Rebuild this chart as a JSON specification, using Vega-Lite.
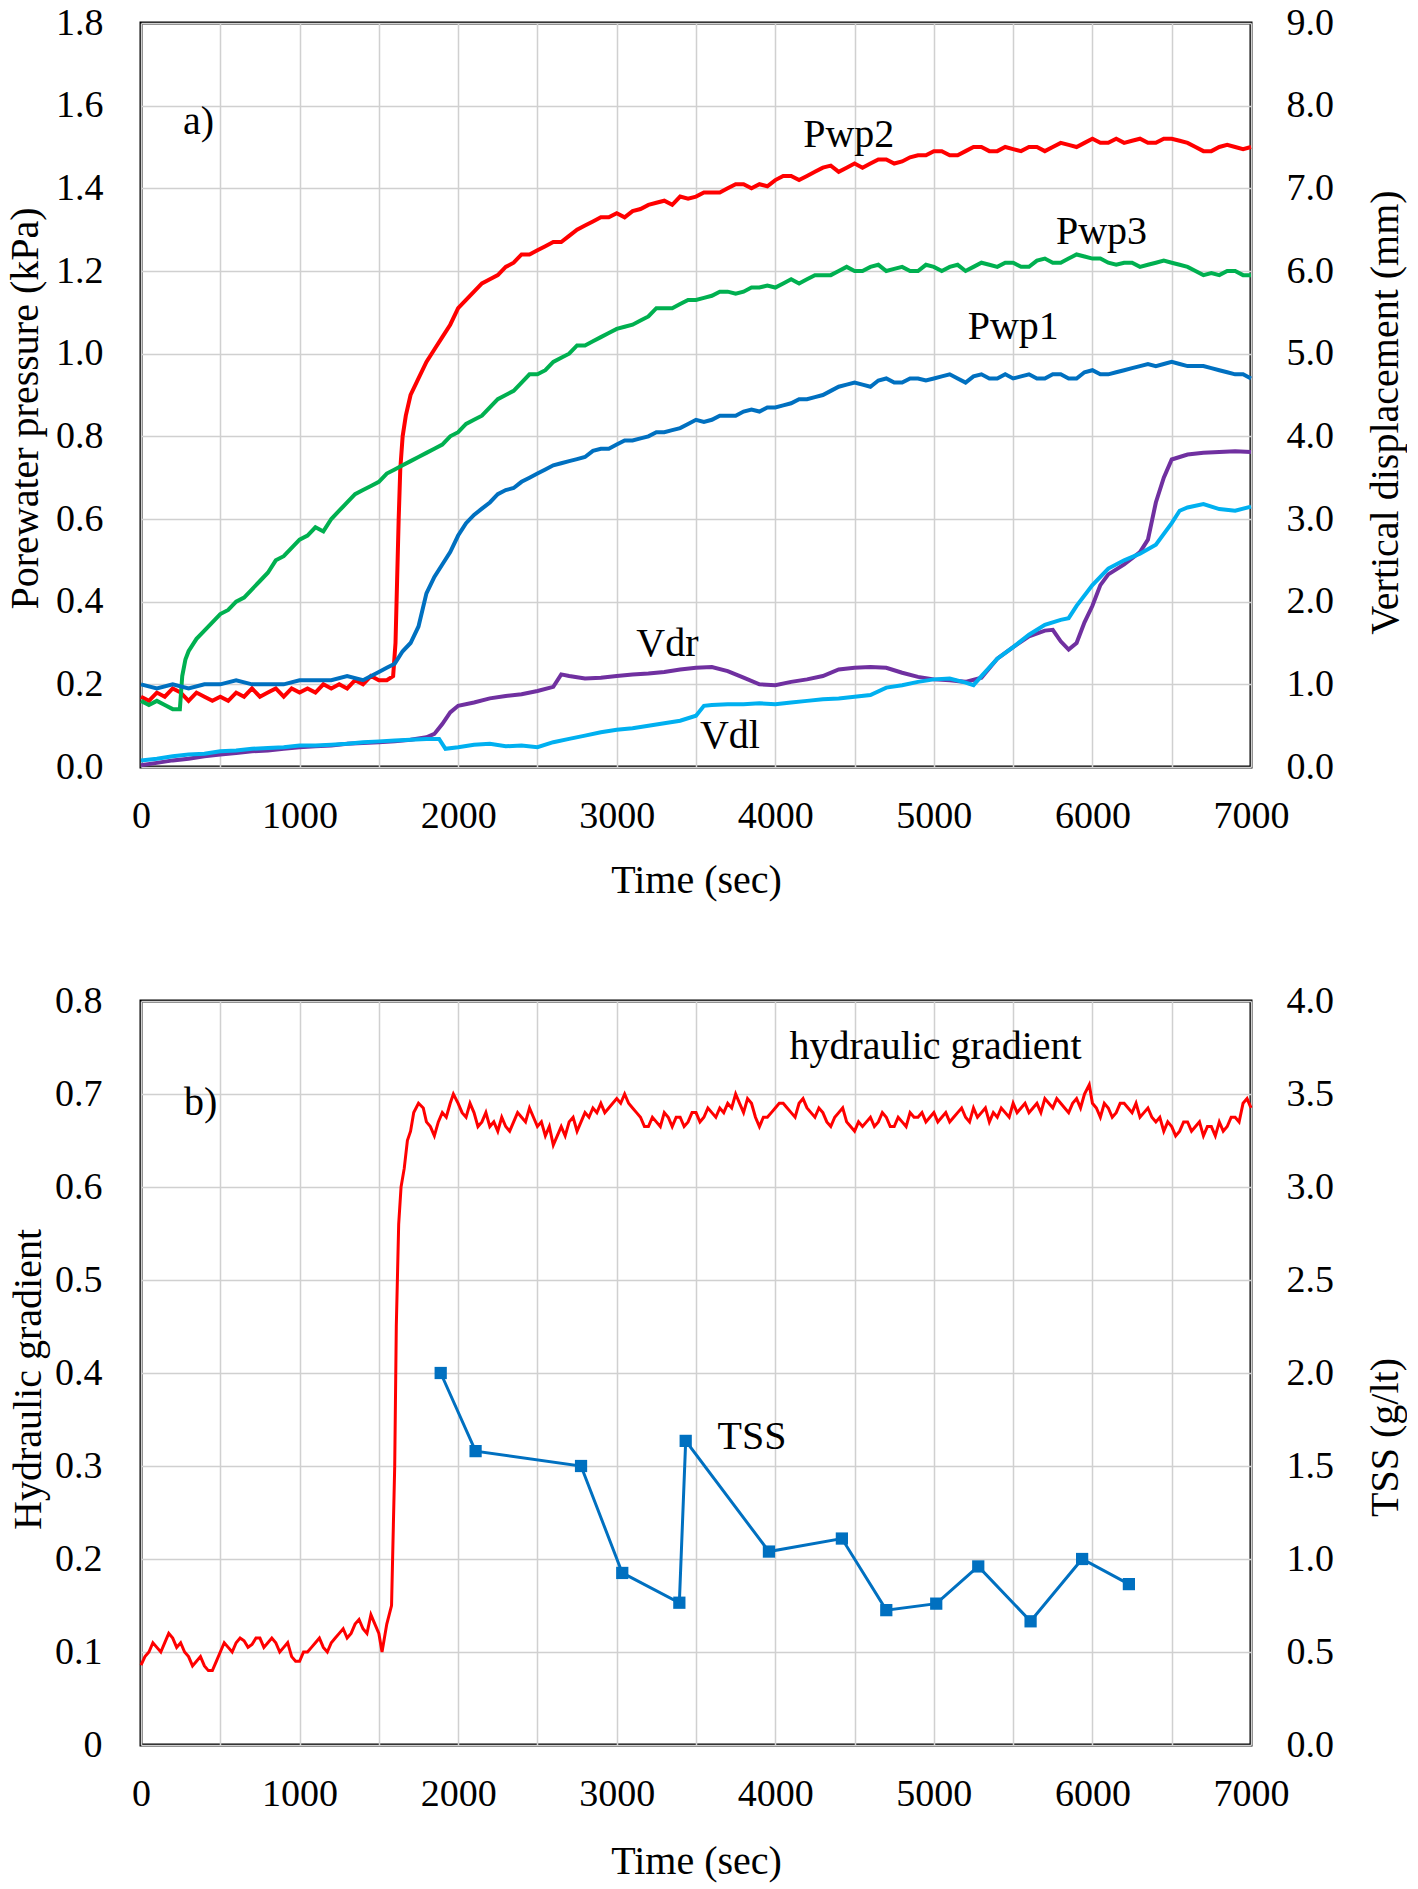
{
"$schema":"https://vega.github.io/schema/vega-lite/v6.json",
"background":"white",
"padding":{"left":3,"top":2,"right":0,"bottom":0},
"spacing":78,
"config":{
 "font":"Liberation Serif",
 "view":{"stroke":"black","strokeWidth":3},
 "axis":{"labelFont":"Liberation Serif","labelFontSize":38,"labelColor":"black","titleFont":"Liberation Serif","titleFontSize":40,"titleFontWeight":"normal","titleColor":"black","domain":false,"ticks":false,"tickSize":0,"gridColor":"#d0d0d0","gridWidth":1.5,"labelOverlap":false},
 "text":{"font":"Liberation Serif","fontSize":40,"color":"black"}
},
"datasets":{
 "pwp":[
{"s":"Pwp2","t":0,"v":0.17},{"s":"Pwp2","t":50,"v":0.16},{"s":"Pwp2","t":100,"v":0.18},{"s":"Pwp2","t":150,"v":0.17},{"s":"Pwp2","t":200,"v":0.19},{"s":"Pwp2","t":250,"v":0.18},{"s":"Pwp2","t":300,"v":0.16},{"s":"Pwp2","t":350,"v":0.18},{"s":"Pwp2","t":400,"v":0.17},{"s":"Pwp2","t":450,"v":0.16},{"s":"Pwp2","t":500,"v":0.17},{"s":"Pwp2","t":550,"v":0.16},{"s":"Pwp2","t":600,"v":0.18},{"s":"Pwp2","t":650,"v":0.17},{"s":"Pwp2","t":700,"v":0.19},{"s":"Pwp2","t":750,"v":0.17},{"s":"Pwp2","t":800,"v":0.18},{"s":"Pwp2","t":850,"v":0.19},{"s":"Pwp2","t":900,"v":0.17},{"s":"Pwp2","t":950,"v":0.19},{"s":"Pwp2","t":1000,"v":0.18},{"s":"Pwp2","t":1050,"v":0.19},{"s":"Pwp2","t":1100,"v":0.18},{"s":"Pwp2","t":1150,"v":0.2},{"s":"Pwp2","t":1200,"v":0.19},{"s":"Pwp2","t":1250,"v":0.2},{"s":"Pwp2","t":1300,"v":0.19},{"s":"Pwp2","t":1350,"v":0.21},{"s":"Pwp2","t":1400,"v":0.2},{"s":"Pwp2","t":1450,"v":0.22},{"s":"Pwp2","t":1500,"v":0.21},{"s":"Pwp2","t":1550,"v":0.21},{"s":"Pwp2","t":1590,"v":0.22},{"s":"Pwp2","t":1605,"v":0.3},{"s":"Pwp2","t":1615,"v":0.45},{"s":"Pwp2","t":1625,"v":0.6},{"s":"Pwp2","t":1635,"v":0.72},{"s":"Pwp2","t":1650,"v":0.8},{"s":"Pwp2","t":1670,"v":0.85},{"s":"Pwp2","t":1700,"v":0.9},{"s":"Pwp2","t":1750,"v":0.94},{"s":"Pwp2","t":1800,"v":0.98},{"s":"Pwp2","t":1850,"v":1.01},{"s":"Pwp2","t":1900,"v":1.04},{"s":"Pwp2","t":1950,"v":1.07},{"s":"Pwp2","t":2000,"v":1.11},{"s":"Pwp2","t":2050,"v":1.13},{"s":"Pwp2","t":2100,"v":1.15},{"s":"Pwp2","t":2150,"v":1.17},{"s":"Pwp2","t":2200,"v":1.18},{"s":"Pwp2","t":2250,"v":1.19},{"s":"Pwp2","t":2300,"v":1.21},{"s":"Pwp2","t":2350,"v":1.22},{"s":"Pwp2","t":2400,"v":1.24},{"s":"Pwp2","t":2450,"v":1.24},{"s":"Pwp2","t":2500,"v":1.25},{"s":"Pwp2","t":2550,"v":1.26},{"s":"Pwp2","t":2600,"v":1.27},{"s":"Pwp2","t":2650,"v":1.27},{"s":"Pwp2","t":2700,"v":1.285},{"s":"Pwp2","t":2750,"v":1.3},{"s":"Pwp2","t":2800,"v":1.31},{"s":"Pwp2","t":2850,"v":1.32},{"s":"Pwp2","t":2900,"v":1.33},{"s":"Pwp2","t":2950,"v":1.33},{"s":"Pwp2","t":3000,"v":1.34},{"s":"Pwp2","t":3050,"v":1.33},{"s":"Pwp2","t":3100,"v":1.345},{"s":"Pwp2","t":3150,"v":1.35},{"s":"Pwp2","t":3200,"v":1.36},{"s":"Pwp2","t":3250,"v":1.365},{"s":"Pwp2","t":3300,"v":1.37},{"s":"Pwp2","t":3350,"v":1.36},{"s":"Pwp2","t":3400,"v":1.38},{"s":"Pwp2","t":3450,"v":1.375},{"s":"Pwp2","t":3500,"v":1.38},{"s":"Pwp2","t":3550,"v":1.39},{"s":"Pwp2","t":3600,"v":1.39},{"s":"Pwp2","t":3650,"v":1.39},{"s":"Pwp2","t":3700,"v":1.4},{"s":"Pwp2","t":3750,"v":1.41},{"s":"Pwp2","t":3800,"v":1.41},{"s":"Pwp2","t":3850,"v":1.4},{"s":"Pwp2","t":3900,"v":1.41},{"s":"Pwp2","t":3950,"v":1.405},{"s":"Pwp2","t":4000,"v":1.42},{"s":"Pwp2","t":4050,"v":1.43},{"s":"Pwp2","t":4100,"v":1.43},{"s":"Pwp2","t":4150,"v":1.42},{"s":"Pwp2","t":4200,"v":1.43},{"s":"Pwp2","t":4250,"v":1.44},{"s":"Pwp2","t":4300,"v":1.45},{"s":"Pwp2","t":4350,"v":1.455},{"s":"Pwp2","t":4400,"v":1.44},{"s":"Pwp2","t":4450,"v":1.45},{"s":"Pwp2","t":4500,"v":1.46},{"s":"Pwp2","t":4550,"v":1.45},{"s":"Pwp2","t":4600,"v":1.46},{"s":"Pwp2","t":4650,"v":1.47},{"s":"Pwp2","t":4700,"v":1.47},{"s":"Pwp2","t":4750,"v":1.46},{"s":"Pwp2","t":4800,"v":1.465},{"s":"Pwp2","t":4850,"v":1.475},{"s":"Pwp2","t":4900,"v":1.48},{"s":"Pwp2","t":4950,"v":1.48},{"s":"Pwp2","t":5000,"v":1.49},{"s":"Pwp2","t":5050,"v":1.49},{"s":"Pwp2","t":5100,"v":1.48},{"s":"Pwp2","t":5150,"v":1.48},{"s":"Pwp2","t":5200,"v":1.49},{"s":"Pwp2","t":5250,"v":1.5},{"s":"Pwp2","t":5300,"v":1.5},{"s":"Pwp2","t":5350,"v":1.49},{"s":"Pwp2","t":5400,"v":1.49},{"s":"Pwp2","t":5450,"v":1.5},{"s":"Pwp2","t":5500,"v":1.495},{"s":"Pwp2","t":5550,"v":1.49},{"s":"Pwp2","t":5600,"v":1.5},{"s":"Pwp2","t":5650,"v":1.5},{"s":"Pwp2","t":5700,"v":1.49},{"s":"Pwp2","t":5750,"v":1.5},{"s":"Pwp2","t":5800,"v":1.51},{"s":"Pwp2","t":5850,"v":1.505},{"s":"Pwp2","t":5900,"v":1.5},{"s":"Pwp2","t":5950,"v":1.51},{"s":"Pwp2","t":6000,"v":1.52},{"s":"Pwp2","t":6050,"v":1.51},{"s":"Pwp2","t":6100,"v":1.51},{"s":"Pwp2","t":6150,"v":1.52},{"s":"Pwp2","t":6200,"v":1.51},{"s":"Pwp2","t":6250,"v":1.515},{"s":"Pwp2","t":6300,"v":1.52},{"s":"Pwp2","t":6350,"v":1.51},{"s":"Pwp2","t":6400,"v":1.51},{"s":"Pwp2","t":6450,"v":1.52},{"s":"Pwp2","t":6500,"v":1.52},{"s":"Pwp2","t":6550,"v":1.515},{"s":"Pwp2","t":6600,"v":1.51},{"s":"Pwp2","t":6650,"v":1.5},{"s":"Pwp2","t":6700,"v":1.49},{"s":"Pwp2","t":6750,"v":1.49},{"s":"Pwp2","t":6800,"v":1.5},{"s":"Pwp2","t":6850,"v":1.505},{"s":"Pwp2","t":6900,"v":1.5},{"s":"Pwp2","t":6950,"v":1.495},{"s":"Pwp2","t":7000,"v":1.5},
{"s":"Pwp3","t":0,"v":0.16},{"s":"Pwp3","t":50,"v":0.15},{"s":"Pwp3","t":100,"v":0.16},{"s":"Pwp3","t":150,"v":0.15},{"s":"Pwp3","t":200,"v":0.14},{"s":"Pwp3","t":245,"v":0.14},{"s":"Pwp3","t":260,"v":0.22},{"s":"Pwp3","t":280,"v":0.26},{"s":"Pwp3","t":300,"v":0.28},{"s":"Pwp3","t":350,"v":0.31},{"s":"Pwp3","t":400,"v":0.33},{"s":"Pwp3","t":450,"v":0.35},{"s":"Pwp3","t":500,"v":0.37},{"s":"Pwp3","t":550,"v":0.38},{"s":"Pwp3","t":600,"v":0.4},{"s":"Pwp3","t":650,"v":0.41},{"s":"Pwp3","t":700,"v":0.43},{"s":"Pwp3","t":750,"v":0.45},{"s":"Pwp3","t":800,"v":0.47},{"s":"Pwp3","t":850,"v":0.5},{"s":"Pwp3","t":900,"v":0.51},{"s":"Pwp3","t":950,"v":0.53},{"s":"Pwp3","t":1000,"v":0.55},{"s":"Pwp3","t":1050,"v":0.56},{"s":"Pwp3","t":1100,"v":0.58},{"s":"Pwp3","t":1150,"v":0.57},{"s":"Pwp3","t":1200,"v":0.6},{"s":"Pwp3","t":1250,"v":0.62},{"s":"Pwp3","t":1300,"v":0.64},{"s":"Pwp3","t":1350,"v":0.66},{"s":"Pwp3","t":1400,"v":0.67},{"s":"Pwp3","t":1450,"v":0.68},{"s":"Pwp3","t":1500,"v":0.69},{"s":"Pwp3","t":1550,"v":0.71},{"s":"Pwp3","t":1600,"v":0.72},{"s":"Pwp3","t":1650,"v":0.73},{"s":"Pwp3","t":1700,"v":0.74},{"s":"Pwp3","t":1750,"v":0.75},{"s":"Pwp3","t":1800,"v":0.76},{"s":"Pwp3","t":1850,"v":0.77},{"s":"Pwp3","t":1900,"v":0.78},{"s":"Pwp3","t":1950,"v":0.8},{"s":"Pwp3","t":2000,"v":0.81},{"s":"Pwp3","t":2050,"v":0.83},{"s":"Pwp3","t":2100,"v":0.84},{"s":"Pwp3","t":2150,"v":0.85},{"s":"Pwp3","t":2200,"v":0.87},{"s":"Pwp3","t":2250,"v":0.89},{"s":"Pwp3","t":2300,"v":0.9},{"s":"Pwp3","t":2350,"v":0.91},{"s":"Pwp3","t":2400,"v":0.93},{"s":"Pwp3","t":2450,"v":0.95},{"s":"Pwp3","t":2500,"v":0.95},{"s":"Pwp3","t":2550,"v":0.96},{"s":"Pwp3","t":2600,"v":0.98},{"s":"Pwp3","t":2650,"v":0.99},{"s":"Pwp3","t":2700,"v":1.0},{"s":"Pwp3","t":2750,"v":1.02},{"s":"Pwp3","t":2800,"v":1.02},{"s":"Pwp3","t":2850,"v":1.03},{"s":"Pwp3","t":2900,"v":1.04},{"s":"Pwp3","t":2950,"v":1.05},{"s":"Pwp3","t":3000,"v":1.06},{"s":"Pwp3","t":3050,"v":1.065},{"s":"Pwp3","t":3100,"v":1.07},{"s":"Pwp3","t":3150,"v":1.08},{"s":"Pwp3","t":3200,"v":1.09},{"s":"Pwp3","t":3250,"v":1.11},{"s":"Pwp3","t":3300,"v":1.11},{"s":"Pwp3","t":3350,"v":1.11},{"s":"Pwp3","t":3400,"v":1.12},{"s":"Pwp3","t":3450,"v":1.13},{"s":"Pwp3","t":3500,"v":1.13},{"s":"Pwp3","t":3550,"v":1.135},{"s":"Pwp3","t":3600,"v":1.14},{"s":"Pwp3","t":3650,"v":1.15},{"s":"Pwp3","t":3700,"v":1.15},{"s":"Pwp3","t":3750,"v":1.145},{"s":"Pwp3","t":3800,"v":1.15},{"s":"Pwp3","t":3850,"v":1.16},{"s":"Pwp3","t":3900,"v":1.16},{"s":"Pwp3","t":3950,"v":1.165},{"s":"Pwp3","t":4000,"v":1.16},{"s":"Pwp3","t":4050,"v":1.17},{"s":"Pwp3","t":4100,"v":1.18},{"s":"Pwp3","t":4150,"v":1.17},{"s":"Pwp3","t":4200,"v":1.18},{"s":"Pwp3","t":4250,"v":1.19},{"s":"Pwp3","t":4300,"v":1.19},{"s":"Pwp3","t":4350,"v":1.19},{"s":"Pwp3","t":4400,"v":1.2},{"s":"Pwp3","t":4450,"v":1.21},{"s":"Pwp3","t":4500,"v":1.2},{"s":"Pwp3","t":4550,"v":1.2},{"s":"Pwp3","t":4600,"v":1.21},{"s":"Pwp3","t":4650,"v":1.215},{"s":"Pwp3","t":4700,"v":1.2},{"s":"Pwp3","t":4750,"v":1.205},{"s":"Pwp3","t":4800,"v":1.21},{"s":"Pwp3","t":4850,"v":1.2},{"s":"Pwp3","t":4900,"v":1.2},{"s":"Pwp3","t":4950,"v":1.215},{"s":"Pwp3","t":5000,"v":1.21},{"s":"Pwp3","t":5050,"v":1.2},{"s":"Pwp3","t":5100,"v":1.21},{"s":"Pwp3","t":5150,"v":1.215},{"s":"Pwp3","t":5200,"v":1.2},{"s":"Pwp3","t":5250,"v":1.21},{"s":"Pwp3","t":5300,"v":1.22},{"s":"Pwp3","t":5350,"v":1.215},{"s":"Pwp3","t":5400,"v":1.21},{"s":"Pwp3","t":5450,"v":1.22},{"s":"Pwp3","t":5500,"v":1.22},{"s":"Pwp3","t":5550,"v":1.21},{"s":"Pwp3","t":5600,"v":1.21},{"s":"Pwp3","t":5650,"v":1.225},{"s":"Pwp3","t":5700,"v":1.23},{"s":"Pwp3","t":5750,"v":1.22},{"s":"Pwp3","t":5800,"v":1.22},{"s":"Pwp3","t":5850,"v":1.23},{"s":"Pwp3","t":5900,"v":1.24},{"s":"Pwp3","t":5950,"v":1.235},{"s":"Pwp3","t":6000,"v":1.23},{"s":"Pwp3","t":6050,"v":1.23},{"s":"Pwp3","t":6100,"v":1.22},{"s":"Pwp3","t":6150,"v":1.215},{"s":"Pwp3","t":6200,"v":1.22},{"s":"Pwp3","t":6250,"v":1.22},{"s":"Pwp3","t":6300,"v":1.21},{"s":"Pwp3","t":6350,"v":1.215},{"s":"Pwp3","t":6400,"v":1.22},{"s":"Pwp3","t":6450,"v":1.225},{"s":"Pwp3","t":6500,"v":1.22},{"s":"Pwp3","t":6550,"v":1.215},{"s":"Pwp3","t":6600,"v":1.21},{"s":"Pwp3","t":6650,"v":1.2},{"s":"Pwp3","t":6700,"v":1.19},{"s":"Pwp3","t":6750,"v":1.195},{"s":"Pwp3","t":6800,"v":1.19},{"s":"Pwp3","t":6850,"v":1.2},{"s":"Pwp3","t":6900,"v":1.2},{"s":"Pwp3","t":6950,"v":1.19},{"s":"Pwp3","t":7000,"v":1.19},
{"s":"Pwp1","t":0,"v":0.2},{"s":"Pwp1","t":100,"v":0.19},{"s":"Pwp1","t":200,"v":0.2},{"s":"Pwp1","t":300,"v":0.19},{"s":"Pwp1","t":400,"v":0.2},{"s":"Pwp1","t":500,"v":0.2},{"s":"Pwp1","t":600,"v":0.21},{"s":"Pwp1","t":700,"v":0.2},{"s":"Pwp1","t":800,"v":0.2},{"s":"Pwp1","t":900,"v":0.2},{"s":"Pwp1","t":1000,"v":0.21},{"s":"Pwp1","t":1100,"v":0.21},{"s":"Pwp1","t":1200,"v":0.21},{"s":"Pwp1","t":1300,"v":0.22},{"s":"Pwp1","t":1400,"v":0.21},{"s":"Pwp1","t":1500,"v":0.23},{"s":"Pwp1","t":1550,"v":0.24},{"s":"Pwp1","t":1600,"v":0.25},{"s":"Pwp1","t":1650,"v":0.28},{"s":"Pwp1","t":1700,"v":0.3},{"s":"Pwp1","t":1750,"v":0.34},{"s":"Pwp1","t":1800,"v":0.42},{"s":"Pwp1","t":1850,"v":0.46},{"s":"Pwp1","t":1900,"v":0.49},{"s":"Pwp1","t":1950,"v":0.52},{"s":"Pwp1","t":2000,"v":0.56},{"s":"Pwp1","t":2050,"v":0.59},{"s":"Pwp1","t":2100,"v":0.61},{"s":"Pwp1","t":2150,"v":0.625},{"s":"Pwp1","t":2200,"v":0.64},{"s":"Pwp1","t":2250,"v":0.66},{"s":"Pwp1","t":2300,"v":0.67},{"s":"Pwp1","t":2350,"v":0.675},{"s":"Pwp1","t":2400,"v":0.69},{"s":"Pwp1","t":2450,"v":0.7},{"s":"Pwp1","t":2500,"v":0.71},{"s":"Pwp1","t":2550,"v":0.72},{"s":"Pwp1","t":2600,"v":0.73},{"s":"Pwp1","t":2650,"v":0.735},{"s":"Pwp1","t":2700,"v":0.74},{"s":"Pwp1","t":2750,"v":0.745},{"s":"Pwp1","t":2800,"v":0.75},{"s":"Pwp1","t":2850,"v":0.765},{"s":"Pwp1","t":2900,"v":0.77},{"s":"Pwp1","t":2950,"v":0.77},{"s":"Pwp1","t":3000,"v":0.78},{"s":"Pwp1","t":3050,"v":0.79},{"s":"Pwp1","t":3100,"v":0.79},{"s":"Pwp1","t":3150,"v":0.795},{"s":"Pwp1","t":3200,"v":0.8},{"s":"Pwp1","t":3250,"v":0.81},{"s":"Pwp1","t":3300,"v":0.81},{"s":"Pwp1","t":3350,"v":0.815},{"s":"Pwp1","t":3400,"v":0.82},{"s":"Pwp1","t":3450,"v":0.83},{"s":"Pwp1","t":3500,"v":0.84},{"s":"Pwp1","t":3550,"v":0.835},{"s":"Pwp1","t":3600,"v":0.84},{"s":"Pwp1","t":3650,"v":0.85},{"s":"Pwp1","t":3700,"v":0.85},{"s":"Pwp1","t":3750,"v":0.85},{"s":"Pwp1","t":3800,"v":0.86},{"s":"Pwp1","t":3850,"v":0.865},{"s":"Pwp1","t":3900,"v":0.86},{"s":"Pwp1","t":3950,"v":0.87},{"s":"Pwp1","t":4000,"v":0.87},{"s":"Pwp1","t":4050,"v":0.875},{"s":"Pwp1","t":4100,"v":0.88},{"s":"Pwp1","t":4150,"v":0.89},{"s":"Pwp1","t":4200,"v":0.89},{"s":"Pwp1","t":4250,"v":0.895},{"s":"Pwp1","t":4300,"v":0.9},{"s":"Pwp1","t":4350,"v":0.91},{"s":"Pwp1","t":4400,"v":0.92},{"s":"Pwp1","t":4450,"v":0.925},{"s":"Pwp1","t":4500,"v":0.93},{"s":"Pwp1","t":4550,"v":0.925},{"s":"Pwp1","t":4600,"v":0.92},{"s":"Pwp1","t":4650,"v":0.935},{"s":"Pwp1","t":4700,"v":0.94},{"s":"Pwp1","t":4750,"v":0.93},{"s":"Pwp1","t":4800,"v":0.93},{"s":"Pwp1","t":4850,"v":0.94},{"s":"Pwp1","t":4900,"v":0.94},{"s":"Pwp1","t":4950,"v":0.935},{"s":"Pwp1","t":5000,"v":0.94},{"s":"Pwp1","t":5050,"v":0.945},{"s":"Pwp1","t":5100,"v":0.95},{"s":"Pwp1","t":5150,"v":0.94},{"s":"Pwp1","t":5200,"v":0.93},{"s":"Pwp1","t":5250,"v":0.945},{"s":"Pwp1","t":5300,"v":0.95},{"s":"Pwp1","t":5350,"v":0.94},{"s":"Pwp1","t":5400,"v":0.94},{"s":"Pwp1","t":5450,"v":0.95},{"s":"Pwp1","t":5500,"v":0.94},{"s":"Pwp1","t":5550,"v":0.945},{"s":"Pwp1","t":5600,"v":0.95},{"s":"Pwp1","t":5650,"v":0.94},{"s":"Pwp1","t":5700,"v":0.94},{"s":"Pwp1","t":5750,"v":0.95},{"s":"Pwp1","t":5800,"v":0.95},{"s":"Pwp1","t":5850,"v":0.94},{"s":"Pwp1","t":5900,"v":0.94},{"s":"Pwp1","t":5950,"v":0.955},{"s":"Pwp1","t":6000,"v":0.96},{"s":"Pwp1","t":6050,"v":0.95},{"s":"Pwp1","t":6100,"v":0.95},{"s":"Pwp1","t":6150,"v":0.955},{"s":"Pwp1","t":6200,"v":0.96},{"s":"Pwp1","t":6250,"v":0.965},{"s":"Pwp1","t":6300,"v":0.97},{"s":"Pwp1","t":6350,"v":0.975},{"s":"Pwp1","t":6400,"v":0.97},{"s":"Pwp1","t":6450,"v":0.975},{"s":"Pwp1","t":6500,"v":0.98},{"s":"Pwp1","t":6550,"v":0.975},{"s":"Pwp1","t":6600,"v":0.97},{"s":"Pwp1","t":6650,"v":0.97},{"s":"Pwp1","t":6700,"v":0.97},{"s":"Pwp1","t":6750,"v":0.965},{"s":"Pwp1","t":6800,"v":0.96},{"s":"Pwp1","t":6850,"v":0.955},{"s":"Pwp1","t":6900,"v":0.95},{"s":"Pwp1","t":6950,"v":0.95},{"s":"Pwp1","t":7000,"v":0.94}
 ],
 "vd":[
{"s":"Vdr","t":0,"v":0.02},{"s":"Vdr","t":100,"v":0.05},{"s":"Vdr","t":200,"v":0.08},{"s":"Vdr","t":300,"v":0.1},{"s":"Vdr","t":400,"v":0.13},{"s":"Vdr","t":500,"v":0.15},{"s":"Vdr","t":600,"v":0.17},{"s":"Vdr","t":700,"v":0.19},{"s":"Vdr","t":800,"v":0.2},{"s":"Vdr","t":900,"v":0.22},{"s":"Vdr","t":1000,"v":0.24},{"s":"Vdr","t":1100,"v":0.25},{"s":"Vdr","t":1200,"v":0.26},{"s":"Vdr","t":1300,"v":0.28},{"s":"Vdr","t":1400,"v":0.29},{"s":"Vdr","t":1500,"v":0.3},{"s":"Vdr","t":1600,"v":0.31},{"s":"Vdr","t":1700,"v":0.33},{"s":"Vdr","t":1800,"v":0.36},{"s":"Vdr","t":1850,"v":0.4},{"s":"Vdr","t":1900,"v":0.52},{"s":"Vdr","t":1950,"v":0.66},{"s":"Vdr","t":2000,"v":0.74},{"s":"Vdr","t":2100,"v":0.78},{"s":"Vdr","t":2200,"v":0.83},{"s":"Vdr","t":2300,"v":0.86},{"s":"Vdr","t":2400,"v":0.88},{"s":"Vdr","t":2500,"v":0.92},{"s":"Vdr","t":2600,"v":0.97},{"s":"Vdr","t":2650,"v":1.12},{"s":"Vdr","t":2700,"v":1.1},{"s":"Vdr","t":2800,"v":1.07},{"s":"Vdr","t":2900,"v":1.08},{"s":"Vdr","t":3000,"v":1.1},{"s":"Vdr","t":3100,"v":1.12},{"s":"Vdr","t":3200,"v":1.13},{"s":"Vdr","t":3300,"v":1.15},{"s":"Vdr","t":3400,"v":1.18},{"s":"Vdr","t":3500,"v":1.2},{"s":"Vdr","t":3600,"v":1.21},{"s":"Vdr","t":3700,"v":1.16},{"s":"Vdr","t":3800,"v":1.08},{"s":"Vdr","t":3900,"v":1.0},{"s":"Vdr","t":4000,"v":0.99},{"s":"Vdr","t":4100,"v":1.03},{"s":"Vdr","t":4200,"v":1.06},{"s":"Vdr","t":4300,"v":1.1},{"s":"Vdr","t":4400,"v":1.18},{"s":"Vdr","t":4500,"v":1.2},{"s":"Vdr","t":4600,"v":1.21},{"s":"Vdr","t":4700,"v":1.2},{"s":"Vdr","t":4800,"v":1.14},{"s":"Vdr","t":4900,"v":1.09},{"s":"Vdr","t":5000,"v":1.06},{"s":"Vdr","t":5100,"v":1.05},{"s":"Vdr","t":5200,"v":1.03},{"s":"Vdr","t":5300,"v":1.08},{"s":"Vdr","t":5400,"v":1.31},{"s":"Vdr","t":5500,"v":1.45},{"s":"Vdr","t":5600,"v":1.58},{"s":"Vdr","t":5700,"v":1.65},{"s":"Vdr","t":5750,"v":1.66},{"s":"Vdr","t":5800,"v":1.52},{"s":"Vdr","t":5850,"v":1.42},{"s":"Vdr","t":5900,"v":1.5},{"s":"Vdr","t":5950,"v":1.75},{"s":"Vdr","t":6000,"v":1.95},{"s":"Vdr","t":6050,"v":2.2},{"s":"Vdr","t":6100,"v":2.33},{"s":"Vdr","t":6200,"v":2.45},{"s":"Vdr","t":6300,"v":2.6},{"s":"Vdr","t":6350,"v":2.75},{"s":"Vdr","t":6400,"v":3.2},{"s":"Vdr","t":6450,"v":3.5},{"s":"Vdr","t":6500,"v":3.72},{"s":"Vdr","t":6600,"v":3.78},{"s":"Vdr","t":6700,"v":3.8},{"s":"Vdr","t":6800,"v":3.81},{"s":"Vdr","t":6900,"v":3.82},{"s":"Vdr","t":7000,"v":3.81},
{"s":"Vdl","t":0,"v":0.08},{"s":"Vdl","t":100,"v":0.1},{"s":"Vdl","t":200,"v":0.13},{"s":"Vdl","t":300,"v":0.15},{"s":"Vdl","t":400,"v":0.16},{"s":"Vdl","t":500,"v":0.19},{"s":"Vdl","t":600,"v":0.2},{"s":"Vdl","t":700,"v":0.22},{"s":"Vdl","t":800,"v":0.23},{"s":"Vdl","t":900,"v":0.24},{"s":"Vdl","t":1000,"v":0.26},{"s":"Vdl","t":1100,"v":0.26},{"s":"Vdl","t":1200,"v":0.27},{"s":"Vdl","t":1300,"v":0.28},{"s":"Vdl","t":1400,"v":0.3},{"s":"Vdl","t":1500,"v":0.31},{"s":"Vdl","t":1600,"v":0.32},{"s":"Vdl","t":1700,"v":0.33},{"s":"Vdl","t":1800,"v":0.34},{"s":"Vdl","t":1880,"v":0.34},{"s":"Vdl","t":1920,"v":0.22},{"s":"Vdl","t":2000,"v":0.24},{"s":"Vdl","t":2100,"v":0.27},{"s":"Vdl","t":2200,"v":0.28},{"s":"Vdl","t":2300,"v":0.25},{"s":"Vdl","t":2400,"v":0.26},{"s":"Vdl","t":2500,"v":0.24},{"s":"Vdl","t":2600,"v":0.3},{"s":"Vdl","t":2700,"v":0.34},{"s":"Vdl","t":2800,"v":0.38},{"s":"Vdl","t":2900,"v":0.42},{"s":"Vdl","t":3000,"v":0.45},{"s":"Vdl","t":3100,"v":0.47},{"s":"Vdl","t":3200,"v":0.5},{"s":"Vdl","t":3300,"v":0.53},{"s":"Vdl","t":3400,"v":0.56},{"s":"Vdl","t":3500,"v":0.62},{"s":"Vdl","t":3550,"v":0.74},{"s":"Vdl","t":3600,"v":0.75},{"s":"Vdl","t":3700,"v":0.76},{"s":"Vdl","t":3800,"v":0.76},{"s":"Vdl","t":3900,"v":0.77},{"s":"Vdl","t":4000,"v":0.76},{"s":"Vdl","t":4100,"v":0.78},{"s":"Vdl","t":4200,"v":0.8},{"s":"Vdl","t":4300,"v":0.82},{"s":"Vdl","t":4400,"v":0.83},{"s":"Vdl","t":4500,"v":0.85},{"s":"Vdl","t":4600,"v":0.87},{"s":"Vdl","t":4700,"v":0.96},{"s":"Vdl","t":4800,"v":0.99},{"s":"Vdl","t":4900,"v":1.03},{"s":"Vdl","t":5000,"v":1.06},{"s":"Vdl","t":5100,"v":1.07},{"s":"Vdl","t":5200,"v":1.02},{"s":"Vdl","t":5250,"v":0.99},{"s":"Vdl","t":5300,"v":1.1},{"s":"Vdl","t":5400,"v":1.31},{"s":"Vdl","t":5500,"v":1.45},{"s":"Vdl","t":5600,"v":1.6},{"s":"Vdl","t":5700,"v":1.72},{"s":"Vdl","t":5800,"v":1.78},{"s":"Vdl","t":5850,"v":1.8},{"s":"Vdl","t":5900,"v":1.95},{"s":"Vdl","t":6000,"v":2.2},{"s":"Vdl","t":6100,"v":2.4},{"s":"Vdl","t":6200,"v":2.5},{"s":"Vdl","t":6300,"v":2.58},{"s":"Vdl","t":6400,"v":2.69},{"s":"Vdl","t":6500,"v":2.95},{"s":"Vdl","t":6550,"v":3.1},{"s":"Vdl","t":6600,"v":3.14},{"s":"Vdl","t":6700,"v":3.18},{"s":"Vdl","t":6800,"v":3.12},{"s":"Vdl","t":6900,"v":3.1},{"s":"Vdl","t":7000,"v":3.15}
 ],
 "labA":[
{"t":363,"v":1.532,"label":"a)"},{"t":4463,"v":1.501,"label":"Pwp2"},{"t":6057,"v":1.265,"label":"Pwp3"},{"t":5501,"v":1.035,"label":"Pwp1"},{"t":3320,"v":0.269,"label":"Vdr"},{"t":3714,"v":0.046,"label":"Vdl"}
 ],
 "hg":[
{"t":0,"v":0.086},{"t":25,"v":0.095},{"t":50,"v":0.1},{"t":75,"v":0.11},{"t":100,"v":0.105},{"t":125,"v":0.1},{"t":150,"v":0.11},{"t":175,"v":0.12},{"t":200,"v":0.115},{"t":225,"v":0.105},{"t":250,"v":0.11},{"t":275,"v":0.1},{"t":300,"v":0.095},{"t":325,"v":0.085},{"t":350,"v":0.09},{"t":375,"v":0.095},{"t":400,"v":0.085},{"t":425,"v":0.08},{"t":450,"v":0.08},{"t":475,"v":0.09},{"t":500,"v":0.1},{"t":525,"v":0.11},{"t":550,"v":0.105},{"t":575,"v":0.1},{"t":600,"v":0.11},{"t":625,"v":0.115},{"t":650,"v":0.112},{"t":675,"v":0.105},{"t":700,"v":0.108},{"t":725,"v":0.115},{"t":750,"v":0.115},{"t":775,"v":0.105},{"t":800,"v":0.11},{"t":825,"v":0.115},{"t":850,"v":0.11},{"t":875,"v":0.1},{"t":900,"v":0.105},{"t":925,"v":0.11},{"t":950,"v":0.095},{"t":975,"v":0.09},{"t":1000,"v":0.09},{"t":1025,"v":0.1},{"t":1050,"v":0.1},{"t":1075,"v":0.105},{"t":1100,"v":0.11},{"t":1125,"v":0.115},{"t":1150,"v":0.105},{"t":1175,"v":0.1},{"t":1200,"v":0.11},{"t":1225,"v":0.115},{"t":1250,"v":0.12},{"t":1275,"v":0.125},{"t":1300,"v":0.115},{"t":1325,"v":0.12},{"t":1350,"v":0.13},{"t":1375,"v":0.135},{"t":1400,"v":0.125},{"t":1425,"v":0.12},{"t":1450,"v":0.14},{"t":1475,"v":0.13},{"t":1500,"v":0.12},{"t":1520,"v":0.1},{"t":1550,"v":0.13},{"t":1580,"v":0.15},{"t":1600,"v":0.3},{"t":1610,"v":0.45},{"t":1625,"v":0.56},{"t":1640,"v":0.6},{"t":1660,"v":0.62},{"t":1680,"v":0.65},{"t":1700,"v":0.66},{"t":1720,"v":0.68},{"t":1750,"v":0.69},{"t":1780,"v":0.685},{"t":1800,"v":0.67},{"t":1825,"v":0.665},{"t":1850,"v":0.655},{"t":1875,"v":0.67},{"t":1900,"v":0.68},{"t":1925,"v":0.675},{"t":1950,"v":0.69},{"t":1970,"v":0.7},{"t":2000,"v":0.69},{"t":2025,"v":0.68},{"t":2050,"v":0.675},{"t":2075,"v":0.69},{"t":2100,"v":0.68},{"t":2125,"v":0.665},{"t":2150,"v":0.67},{"t":2175,"v":0.68},{"t":2200,"v":0.665},{"t":2225,"v":0.67},{"t":2250,"v":0.66},{"t":2275,"v":0.675},{"t":2300,"v":0.665},{"t":2325,"v":0.66},{"t":2350,"v":0.67},{"t":2375,"v":0.68},{"t":2400,"v":0.675},{"t":2425,"v":0.67},{"t":2450,"v":0.685},{"t":2475,"v":0.675},{"t":2500,"v":0.665},{"t":2525,"v":0.67},{"t":2550,"v":0.655},{"t":2575,"v":0.665},{"t":2600,"v":0.645},{"t":2625,"v":0.655},{"t":2650,"v":0.665},{"t":2675,"v":0.655},{"t":2700,"v":0.67},{"t":2725,"v":0.675},{"t":2750,"v":0.66},{"t":2775,"v":0.67},{"t":2800,"v":0.68},{"t":2825,"v":0.675},{"t":2850,"v":0.685},{"t":2875,"v":0.68},{"t":2900,"v":0.69},{"t":2925,"v":0.68},{"t":2950,"v":0.685},{"t":2975,"v":0.69},{"t":3000,"v":0.695},{"t":3025,"v":0.69},{"t":3050,"v":0.7},{"t":3075,"v":0.69},{"t":3100,"v":0.685},{"t":3125,"v":0.68},{"t":3150,"v":0.675},{"t":3175,"v":0.665},{"t":3200,"v":0.665},{"t":3225,"v":0.675},{"t":3250,"v":0.67},{"t":3275,"v":0.665},{"t":3300,"v":0.68},{"t":3325,"v":0.675},{"t":3350,"v":0.665},{"t":3375,"v":0.675},{"t":3400,"v":0.675},{"t":3425,"v":0.665},{"t":3450,"v":0.67},{"t":3475,"v":0.68},{"t":3500,"v":0.68},{"t":3525,"v":0.67},{"t":3550,"v":0.675},{"t":3575,"v":0.685},{"t":3600,"v":0.68},{"t":3625,"v":0.675},{"t":3650,"v":0.685},{"t":3675,"v":0.68},{"t":3700,"v":0.69},{"t":3725,"v":0.685},{"t":3750,"v":0.7},{"t":3775,"v":0.69},{"t":3800,"v":0.68},{"t":3825,"v":0.695},{"t":3850,"v":0.69},{"t":3875,"v":0.675},{"t":3900,"v":0.665},{"t":3925,"v":0.675},{"t":3950,"v":0.675},{"t":3975,"v":0.68},{"t":4000,"v":0.685},{"t":4025,"v":0.69},{"t":4050,"v":0.69},{"t":4075,"v":0.685},{"t":4100,"v":0.68},{"t":4125,"v":0.675},{"t":4150,"v":0.69},{"t":4175,"v":0.695},{"t":4200,"v":0.685},{"t":4225,"v":0.68},{"t":4250,"v":0.675},{"t":4275,"v":0.685},{"t":4300,"v":0.68},{"t":4325,"v":0.67},{"t":4350,"v":0.665},{"t":4375,"v":0.675},{"t":4400,"v":0.68},{"t":4425,"v":0.685},{"t":4450,"v":0.67},{"t":4475,"v":0.665},{"t":4500,"v":0.66},{"t":4525,"v":0.67},{"t":4550,"v":0.665},{"t":4575,"v":0.67},{"t":4600,"v":0.675},{"t":4625,"v":0.665},{"t":4650,"v":0.67},{"t":4675,"v":0.68},{"t":4700,"v":0.675},{"t":4725,"v":0.665},{"t":4750,"v":0.665},{"t":4775,"v":0.675},{"t":4800,"v":0.67},{"t":4825,"v":0.665},{"t":4850,"v":0.68},{"t":4875,"v":0.675},{"t":4900,"v":0.675},{"t":4925,"v":0.68},{"t":4950,"v":0.67},{"t":4975,"v":0.675},{"t":5000,"v":0.68},{"t":5025,"v":0.67},{"t":5050,"v":0.675},{"t":5075,"v":0.68},{"t":5100,"v":0.67},{"t":5125,"v":0.675},{"t":5150,"v":0.68},{"t":5175,"v":0.685},{"t":5200,"v":0.675},{"t":5225,"v":0.67},{"t":5250,"v":0.685},{"t":5275,"v":0.675},{"t":5300,"v":0.68},{"t":5325,"v":0.685},{"t":5350,"v":0.67},{"t":5375,"v":0.68},{"t":5400,"v":0.675},{"t":5425,"v":0.685},{"t":5450,"v":0.68},{"t":5475,"v":0.675},{"t":5500,"v":0.69},{"t":5525,"v":0.68},{"t":5550,"v":0.685},{"t":5575,"v":0.69},{"t":5600,"v":0.68},{"t":5625,"v":0.685},{"t":5650,"v":0.69},{"t":5675,"v":0.68},{"t":5700,"v":0.695},{"t":5725,"v":0.69},{"t":5750,"v":0.685},{"t":5775,"v":0.695},{"t":5800,"v":0.69},{"t":5825,"v":0.685},{"t":5850,"v":0.68},{"t":5875,"v":0.69},{"t":5900,"v":0.695},{"t":5925,"v":0.685},{"t":5950,"v":0.7},{"t":5980,"v":0.71},{"t":6000,"v":0.69},{"t":6025,"v":0.685},{"t":6050,"v":0.675},{"t":6075,"v":0.69},{"t":6100,"v":0.685},{"t":6125,"v":0.675},{"t":6150,"v":0.68},{"t":6175,"v":0.69},{"t":6200,"v":0.69},{"t":6225,"v":0.685},{"t":6250,"v":0.68},{"t":6275,"v":0.69},{"t":6300,"v":0.675},{"t":6325,"v":0.68},{"t":6350,"v":0.685},{"t":6375,"v":0.675},{"t":6400,"v":0.67},{"t":6425,"v":0.675},{"t":6450,"v":0.66},{"t":6475,"v":0.67},{"t":6500,"v":0.665},{"t":6525,"v":0.655},{"t":6550,"v":0.66},{"t":6575,"v":0.67},{"t":6600,"v":0.67},{"t":6625,"v":0.66},{"t":6650,"v":0.665},{"t":6675,"v":0.67},{"t":6700,"v":0.655},{"t":6725,"v":0.665},{"t":6750,"v":0.665},{"t":6775,"v":0.655},{"t":6800,"v":0.67},{"t":6825,"v":0.66},{"t":6850,"v":0.665},{"t":6875,"v":0.675},{"t":6900,"v":0.675},{"t":6925,"v":0.67},{"t":6950,"v":0.69},{"t":6975,"v":0.695},{"t":7000,"v":0.685}
 ],
 "tss":[
{"t":1890,"v":2.0},{"t":2110,"v":1.58},{"t":2775,"v":1.5},{"t":3035,"v":0.925},{"t":3395,"v":0.765},{"t":3435,"v":1.635},{"t":3960,"v":1.04},{"t":4420,"v":1.11},{"t":4700,"v":0.725},{"t":5015,"v":0.76},{"t":5280,"v":0.96},{"t":5610,"v":0.665},{"t":5935,"v":1.0},{"t":6230,"v":0.865}
 ],
 "labB":[
{"t":376,"v":0.677,"label":"b)"},{"t":5011,"v":0.738,"label":"hydraulic gradient"},{"t":3853,"v":0.318,"label":"TSS"}
 ]
},
"vconcat":[
 {
  "width":1110,"height":744,
  "layer":[
   {"layer":[
    {"data":{"name":"pwp"},
     "mark":{"type":"line","strokeWidth":4},
     "encoding":{
      "x":{"field":"t","type":"quantitative","scale":{"domain":[0,7000],"nice":false},"axis":{"values":[0,500,1000,1500,2000,2500,3000,3500,4000,4500,5000,5500,6000,6500,7000],"labelExpr":"datum.value % 1000 === 0 ? format(datum.value, 'd') : ''","grid":true,"labelFlush":false,"labelPadding":30,"title":"Time (sec)","titleY":93,"titleBaseline":"top"}},
      "y":{"field":"v","type":"quantitative","scale":{"domain":[0,1.8],"nice":false,"zero":false},"axis":{"values":[0,0.2,0.4,0.6,0.8,1.0,1.2,1.4,1.6,1.8],"format":".1f","grid":true,"labelPadding":38,"title":"Porewater pressure (kPa)","titleAngle":-90,"titleBaseline":"bottom","titleX":-96,"titleY":385}},
      "color":{"field":"s","type":"nominal","scale":{"domain":["Pwp1","Pwp2","Pwp3"],"range":["#0070c0","#ff0000","#00b050"]},"legend":null}
     }},
    {"data":{"name":"labA"},
     "mark":{"type":"text","align":"center","baseline":"alphabetic","font":"Liberation Serif","fontSize":40,"color":"black"},
     "encoding":{
      "x":{"field":"t","type":"quantitative","scale":{"domain":[0,7000],"nice":false},"axis":{"values":[0,500,1000,1500,2000,2500,3000,3500,4000,4500,5000,5500,6000,6500,7000],"labelExpr":"datum.value % 1000 === 0 ? format(datum.value, 'd') : ''","grid":true,"labelFlush":false,"labelPadding":30,"title":"Time (sec)","titleY":93,"titleBaseline":"top"}},
      "y":{"field":"v","type":"quantitative","scale":{"domain":[0,1.8],"nice":false,"zero":false},"axis":{"values":[0,0.2,0.4,0.6,0.8,1.0,1.2,1.4,1.6,1.8],"format":".1f","grid":true,"labelPadding":38,"title":"Porewater pressure (kPa)","titleAngle":-90,"titleBaseline":"bottom","titleX":-96,"titleY":385}},
      "text":{"field":"label","type":"nominal"}
     }}
   ]},
   {"data":{"name":"vd"},
    "mark":{"type":"line","strokeWidth":4},
    "encoding":{
     "x":{"field":"t","type":"quantitative","scale":{"domain":[0,7000],"nice":false},"axis":{"values":[0,500,1000,1500,2000,2500,3000,3500,4000,4500,5000,5500,6000,6500,7000],"labelExpr":"datum.value % 1000 === 0 ? format(datum.value, 'd') : ''","grid":true,"labelFlush":false,"labelPadding":30,"title":"Time (sec)","titleY":93,"titleBaseline":"top"}},
     "y":{"field":"v","type":"quantitative","scale":{"domain":[0,9],"nice":false,"zero":false},"axis":{"orient":"right","values":[0,1,2,3,4,5,6,7,8,9],"format":".1f","grid":false,"labelPadding":35,"title":"Vertical displacement (mm)","titleAngle":-90,"titleBaseline":"bottom","titleX":154,"titleY":389}},
     "color":{"field":"s","type":"nominal","scale":{"domain":["Vdr","Vdl"],"range":["#7030a0","#00b0f0"]},"legend":null}
    }}
  ],
  "resolve":{"scale":{"y":"independent","color":"independent"}}
 },
 {
  "width":1110,"height":744,
  "layer":[
   {"layer":[
    {"data":{"name":"hg"},
     "mark":{"type":"line","strokeWidth":3,"color":"#ff0000"},
     "encoding":{
      "x":{"field":"t","type":"quantitative","scale":{"domain":[0,7000],"nice":false},"axis":{"values":[0,500,1000,1500,2000,2500,3000,3500,4000,4500,5000,5500,6000,6500,7000],"labelExpr":"datum.value % 1000 === 0 ? format(datum.value, 'd') : ''","grid":true,"labelFlush":false,"labelPadding":30,"title":"Time (sec)","titleY":96,"titleBaseline":"top"}},
      "y":{"field":"v","type":"quantitative","scale":{"domain":[0,0.8],"nice":false,"zero":false},"axis":{"values":[0,0.1,0.2,0.3,0.4,0.5,0.6,0.7,0.8],"labelExpr":"datum.value === 0 ? '0' : format(datum.value, '.1f')","grid":true,"labelPadding":39,"title":"Hydraulic gradient","titleAngle":-90,"titleBaseline":"bottom","titleX":-93,"titleY":378}}
     }},
    {"data":{"name":"labB"},
     "mark":{"type":"text","align":"center","baseline":"alphabetic","font":"Liberation Serif","fontSize":40,"color":"black"},
     "encoding":{
      "x":{"field":"t","type":"quantitative","scale":{"domain":[0,7000],"nice":false},"axis":{"values":[0,500,1000,1500,2000,2500,3000,3500,4000,4500,5000,5500,6000,6500,7000],"labelExpr":"datum.value % 1000 === 0 ? format(datum.value, 'd') : ''","grid":true,"labelFlush":false,"labelPadding":30,"title":"Time (sec)","titleY":96,"titleBaseline":"top"}},
      "y":{"field":"v","type":"quantitative","scale":{"domain":[0,0.8],"nice":false,"zero":false},"axis":{"values":[0,0.1,0.2,0.3,0.4,0.5,0.6,0.7,0.8],"labelExpr":"datum.value === 0 ? '0' : format(datum.value, '.1f')","grid":true,"labelPadding":39,"title":"Hydraulic gradient","titleAngle":-90,"titleBaseline":"bottom","titleX":-93,"titleY":378}},
      "text":{"field":"label","type":"nominal"}
     }}
   ]},
   {"data":{"name":"tss"},
    "encoding":{
     "x":{"field":"t","type":"quantitative","scale":{"domain":[0,7000],"nice":false},"axis":{"values":[0,500,1000,1500,2000,2500,3000,3500,4000,4500,5000,5500,6000,6500,7000],"labelExpr":"datum.value % 1000 === 0 ? format(datum.value, 'd') : ''","grid":true,"labelFlush":false,"labelPadding":30,"title":"Time (sec)","titleY":96,"titleBaseline":"top"}},
     "y":{"field":"v","type":"quantitative","scale":{"domain":[0,4],"nice":false,"zero":false},"axis":{"orient":"right","values":[0,0.5,1,1.5,2,2.5,3,3.5,4],"format":".1f","grid":false,"labelPadding":35,"title":"TSS (g/lt)","titleAngle":-90,"titleBaseline":"bottom","titleX":154,"titleY":436}}
    },
    "layer":[
     {"mark":{"type":"line","strokeWidth":3,"color":"#0070c0"}},
     {"mark":{"type":"point","shape":"square","filled":true,"size":150,"opacity":1,"color":"#0070c0"}}
    ]}
  ],
  "resolve":{"scale":{"y":"independent"}}
 }
]
}
